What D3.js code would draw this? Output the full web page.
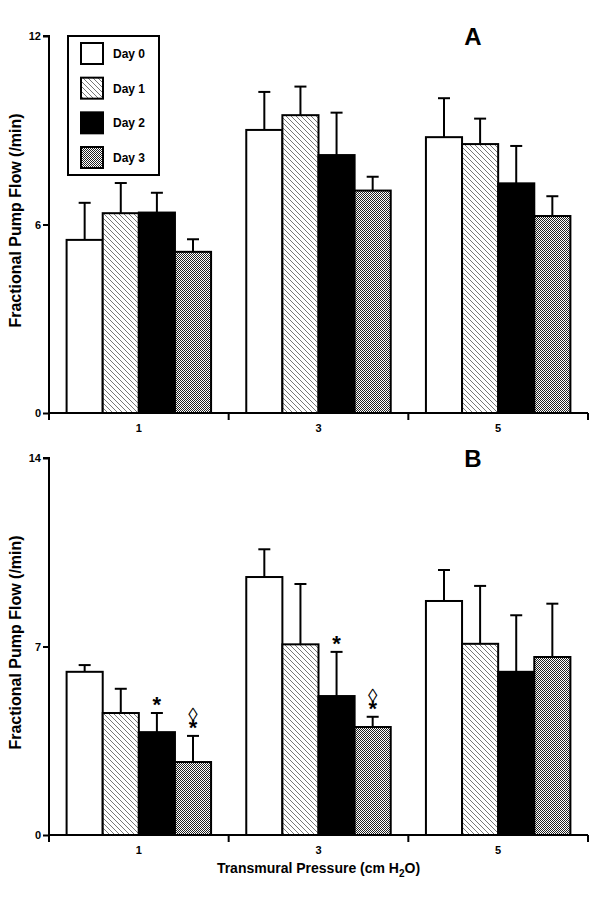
<!DOCTYPE html>
<html><head><meta charset="utf-8">
<script src="https://cdn.jsdelivr.net/npm/d3@7"></script>
<style>body{margin:0;background:#fff}svg text{font-family:"Liberation Sans",Arial,sans-serif;font-weight:bold}</style>
</head><body><svg id="c" width="612" height="899"></svg>
<script>
const pressures = ["1","3","5"];
const days = ["Day 0","Day 1","Day 2","Day 3"];
// Panel A: means per day across pressures 1,3,5
const aDay0 = [5.51, 9.01, 8.78], aDay0Err = [1.18, 1.21, 1.24];
const aDay1 = [6.36, 9.48, 8.56], aDay1Err = [0.96, 0.91, 0.81];
const aDay2 = [6.38, 8.21, 7.31], aDay2Err = [0.63, 1.35, 1.19];
const aDay3 = [5.13, 7.08, 6.27], aDay3Err = [0.40, 0.44, 0.63];
// Panel B
const bDay0 = [6.06, 9.58, 8.69], bDay0Err = [0.25, 1.03, 1.15];
const bDay1 = [4.53, 7.08, 7.10], bDay1Err = [0.90, 2.24, 2.15];
const bDay2 = [3.82, 5.16, 6.06], bDay2Err = [0.71, 1.64, 2.10];
const bDay3 = [2.71, 4.01, 6.61], bDay3Err = [0.97, 0.38, 1.98];
const aTicks = [0, 6, 12];
const bTicks = [0, 7, 14];
const bSignif = [
  {p:"1", d:"Day 2", marks:["*"]},
  {p:"1", d:"Day 3", marks:["\u25CA","*"]},
  {p:"3", d:"Day 2", marks:["*"]},
  {p:"3", d:"Day 3", marks:["\u25CA","*"]}
];

const svg = d3.select("#c");
const defs = svg.append("defs");
const hatch = defs.append("pattern").attr("id","hatch").attr("patternUnits","userSpaceOnUse").attr("width",5).attr("height",5);
hatch.append("rect").attr("width",5).attr("height",5).attr("fill","#fff");
hatch.append("path").attr("d","M-1,-1L6,6M-1,4L1,6M4,-1L6,1").attr("stroke","#777").attr("stroke-width",1);
const chk = defs.append("pattern").attr("id","chk").attr("patternUnits","userSpaceOnUse").attr("width",2).attr("height",2);
chk.append("rect").attr("width",2).attr("height",2).attr("fill","#fff");
chk.append("rect").attr("width",1).attr("height",1).attr("fill","#222");
chk.append("rect").attr("x",1).attr("y",1).attr("width",1).attr("height",1).attr("fill","#222");
const fills = {"Day 0":"#fff","Day 1":"url(#hatch)","Day 2":"#000","Day 3":"url(#chk)"};

const x0 = d3.scaleBand().domain(pressures).range([49, 588]).padding(0);
const bw = x0.bandwidth();
const x1 = d3.scaleBand().domain(days).range([17.6, bw - 17.6]).padding(0);

function panel(means, errs, yDomMax, ticks, yTop, yBot, letter, signif) {
  const y = d3.scaleLinear().domain([0, yDomMax]).range([yBot, yTop]);
  const g = svg.append("g");
  const rows = [];
  days.forEach((d, i) => pressures.forEach((p, j) => rows.push({d, p, v: means[i][j], e: errs[i][j]})));
  // error bars
  const eb = g.append("g").selectAll("g").data(rows).join("g");
  eb.append("line").attr("x1", r => x0(r.p) + x1(r.d) + x1.bandwidth()/2).attr("x2", r => x0(r.p) + x1(r.d) + x1.bandwidth()/2)
    .attr("y1", r => y(r.v)).attr("y2", r => y(r.v + r.e)).attr("stroke","#000").attr("stroke-width",2);
  eb.append("line").attr("x1", r => x0(r.p) + x1(r.d) + x1.bandwidth()/2 - 6).attr("x2", r => x0(r.p) + x1(r.d) + x1.bandwidth()/2 + 6)
    .attr("y1", r => y(r.v + r.e)).attr("y2", r => y(r.v + r.e)).attr("stroke","#000").attr("stroke-width",2);
  // bars
  g.append("g").selectAll("rect").data(rows).join("rect")
    .attr("x", r => x0(r.p) + x1(r.d)).attr("width", x1.bandwidth())
    .attr("y", r => y(r.v)).attr("height", r => y(0) - y(r.v))
    .attr("fill", r => fills[r.d]).attr("stroke","#000").attr("stroke-width",2);
  // y axis
  const ya = g.append("g").attr("transform","translate(49,0)").call(d3.axisLeft(y).tickValues(ticks).tickSize(6).tickPadding(2).tickFormat(d3.format("d")));
  ya.select(".domain").attr("stroke-width",2).attr("d", `M-6,${yTop}H0V${yBot}`);
  ya.selectAll(".tick line").attr("stroke-width",2);
  ya.selectAll(".tick text").attr("font-size",11).attr("font-family",'"Liberation Sans",Arial,sans-serif');
  // x axis
  const xa = g.append("g").attr("transform",`translate(0,${yBot})`).call(d3.axisBottom(x0).tickSize(0).tickPadding(11));
  xa.select(".domain").attr("stroke-width",2).attr("d","M49,0H588");
  xa.selectAll(".tick text").attr("font-size",11).attr("font-family",'"Liberation Sans",Arial,sans-serif');
  const edges = [pressures[0]].map(p => x0(p)).concat(pressures.map(p => x0(p) + bw));
  g.append("g").selectAll("line").data(edges).join("line").attr("x1", d => d).attr("x2", d => d)
    .attr("y1", yBot).attr("y2", yBot + 7).attr("stroke","#000").attr("stroke-width",2);
  // y title
  g.append("text").attr("transform",`translate(21,${(yTop+yBot)/2 - 4}) rotate(-90)`).attr("text-anchor","middle")
    .attr("font-size",16).text("Fractional Pump Flow (/min)");
  // panel letter
  g.append("text").attr("x",473).attr("y",yTop + 9).attr("text-anchor","middle").attr("font-size",24).text(letter);
  // significance marks (one text per bar; diamond above star)
  (signif || []).forEach(s => {
    const i = days.indexOf(s.d), j = pressures.indexOf(s.p);
    const top = y(means[i][j] + errs[i][j]);
    const cx = x0(s.p) + x1(s.d) + x1.bandwidth()/2;
    const t = g.append("text").attr("text-anchor","middle");
    s.marks.forEach(m => {
      if (m === "*") t.append("tspan").attr("x", cx).attr("y", top - 1).attr("font-size",22).text(m);
      else t.append("tspan").attr("x", cx).attr("y", top - 15).attr("font-size",19).attr("font-weight","normal").text(m);
    });
  });
  return y;
}

panel([aDay0,aDay1,aDay2,aDay3],[aDay0Err,aDay1Err,aDay2Err,aDay3Err],12,aTicks,36,413,"A",null);
panel([bDay0,bDay1,bDay2,bDay3],[bDay0Err,bDay1Err,bDay2Err,bDay3Err],14,bTicks,458,835,"B",bSignif);

// legend
const lg = svg.append("g");
lg.append("rect").attr("x",68).attr("y",36).attr("width",91).attr("height",139).attr("fill","#fff").attr("stroke","#000").attr("stroke-width",2);
const ly = d3.scalePoint().domain(days).range([43, 147]);
days.forEach(d => {
  lg.append("rect").attr("x",81).attr("y",ly(d)).attr("width",22).attr("height",21).attr("fill",fills[d]).attr("stroke","#000").attr("stroke-width",2);
  lg.append("text").attr("x",113).attr("y",ly(d)+15).attr("font-size",12).text(d);
});

// x title
const xt = svg.append("text").attr("x",318.5).attr("y",873).attr("text-anchor","middle").attr("font-size",14);
xt.append("tspan").text("Transmural Pressure (cm H");
xt.append("tspan").attr("font-size",10).attr("dy",4).text("2");
xt.append("tspan").attr("dy",-4).text("O)");
</script></body></html>
